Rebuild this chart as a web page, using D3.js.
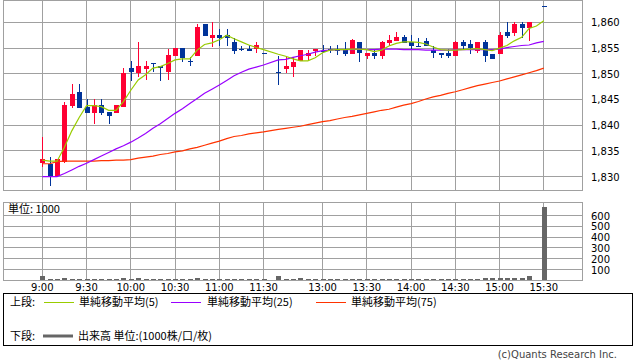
<!DOCTYPE html>
<html>
<head>
<meta charset="utf-8">
<script src="https://cdn.jsdelivr.net/npm/d3@7"></script>
<style>
    body { margin: 0; background: #fff; }
    svg text { font-family: "DejaVu Sans", "Noto Sans CJK JP", sans-serif; font-size: 10px; fill: #000; }
    svg text.jp { font-family: "Noto Sans CJK JP", "DejaVu Sans", sans-serif; font-size: 11px; }
</style>
</head>
<body>
<svg id="chart" width="638" height="362"></svg>
<script>
// 5-minute bars, slot 31 = lunch gap, slot 67 = 15:25 (no trades)
const tickIdx = [0, 6, 12, 18, 24, 30, 38, 44, 50, 56, 62, 68];
const tickLabels = ["9:00", "9:30", "10:00", "10:30", "11:00", "11:30", "13:00", "13:30", "14:00", "14:30", "15:00", "15:30"];
const priceTicks = [1830, 1835, 1840, 1845, 1850, 1855, 1860];
const volTicks = [100, 200, 300, 400, 500, 600];

const opens = [1832.6,1832.5,1830.2,1832.8,1843.7,1846.4,1843.5,1842.4,1843.9,1842.6,
    1842.4,1843.6,1851.1,1850.1,1851.0,1852.1,1851.5,1850.4,1853.5,1855.0,
    1852.5,1853.5,1859.7,1857.0,1857.6,1857.6,1856.1,1854.9,1854.9,1854.9,
    1854.0,null,1850.3,1850.9,1851.4,1852.5,1853.5,1854.4,1854.5,1854.9,
    1854.7,1854.7,1853.8,1856.2,1853.5,1854.1,1853.5,1855.9,1856.4,1857.1,
    1856.2,1855.4,1856.3,1854.6,1854.1,1854.0,1853.5,1856.2,1855.7,1854.5,
    1856.2,1853.8,1853.8,1858.1,1858.0,1859.7,1858.9,null,1863.2];
const highs = [1837.8,1833.9,1833.5,1844.5,1848.0,1848.1,1845.1,1845.1,1845.1,1842.6,
    1843.9,1851.1,1852.5,1856.2,1852.5,1852.1,1851.5,1854.9,1855.0,1855.0,
    1853.3,1859.7,1859.7,1860.1,1858.7,1858.7,1857.0,1855.4,1855.6,1856.1,
    1854.0,null,1853.4,1853.2,1853.2,1854.6,1854.6,1854.9,1855.6,1855.4,
    1855.6,1856.2,1856.8,1856.2,1854.1,1854.9,1856.4,1857.5,1858.1,1857.5,
    1857.5,1857.0,1857.0,1855.4,1854.1,1854.9,1856.4,1856.6,1856.6,1856.2,
    1856.6,1853.8,1858.2,1860.1,1860.1,1860.1,1860.1,null,1863.2];
const lows = [1831.9,1828.2,1829.9,1832.7,1843.4,1843.4,1842.4,1840.3,1842.0,1840.2,
    1842.4,1843.6,1848.5,1849.4,1848.8,1850.4,1848.5,1848.8,1853.5,1852.3,
    1851.5,1853.5,1857.3,1855.3,1855.4,1855.4,1853.8,1854.5,1854.5,1854.0,
    1854.0,null,1847.9,1850.2,1849.4,1852.5,1852.5,1853.4,1854.0,1854.1,
    1853.6,1853.4,1853.8,1852.3,1852.9,1852.9,1852.9,1855.4,1856.4,1855.9,
    1854.9,1855.4,1855.4,1853.0,1853.0,1853.0,1853.5,1854.8,1853.9,1854.0,
    1852.3,1852.9,1853.8,1857.0,1857.3,1857.0,1856.4,null,1863.2];
const closes = [1833.4,1829.9,1833.4,1843.9,1846.1,1843.4,1842.4,1843.9,1842.4,1841.8,
    1843.9,1850.1,1850.4,1851.5,1851.5,1852.1,1851.1,1853.6,1855.0,1853.1,
    1852.5,1859.1,1857.3,1857.6,1857.0,1857.0,1854.5,1854.9,1854.5,1855.5,
    1854.0,null,1850.3,1851.5,1852.2,1854.6,1854.1,1854.9,1854.2,1854.6,
    1854.7,1853.8,1856.6,1854.0,1854.1,1853.5,1856.2,1856.6,1857.1,1856.0,
    1855.4,1855.4,1855.4,1854.0,1853.6,1853.5,1856.2,1855.4,1855.0,1856.2,
    1853.5,1852.9,1857.5,1857.3,1859.7,1858.9,1860.1,null,1863.2];

const ma5 = [1833.2,1833.0,1833.0,1835.7,1838.9,1841.5,1843.8,1843.8,1843.6,1842.9,
    1842.9,1844.6,1846.8,1848.8,1849.8,1851.1,1851.4,1852.0,1852.7,1852.9,
    1852.9,1854.6,1855.7,1856.0,1856.6,1857.5,1856.8,1856.2,1855.6,1855.1,
    1854.7,null,1853.8,1853.4,1852.9,1852.5,1852.5,1853.1,1854.1,1854.6,
    1854.7,1854.7,1854.8,1854.8,1854.7,1854.3,1854.6,1855.4,1855.9,1856.2,
    1856.2,1856.1,1855.8,1855.2,1854.7,1854.6,1854.6,1854.7,1854.8,1854.9,
    1854.7,1854.5,1855.0,1855.5,1856.4,1857.1,1858.8,1859.3,1860.3];
const ma25 = [1830.0,1830.0,1830.0,1830.6,1831.3,1832.0,1832.6,1833.3,1834.0,1834.7,
    1835.4,1836.0,1836.7,1837.5,1838.4,1839.4,1840.3,1841.3,1842.3,1843.2,
    1844.2,1845.2,1846.2,1847.0,1847.8,1848.7,1849.6,1850.3,1850.9,1851.3,
    1851.7,null,1852.7,1852.8,1853.2,1853.5,1853.8,1854.2,1854.5,1854.6,
    1854.7,1854.7,1854.7,1854.8,1854.7,1854.7,1854.8,1854.8,1854.8,1854.7,
    1854.7,1854.7,1854.6,1854.6,1854.6,1854.6,1854.7,1854.7,1854.7,1854.7,
    1854.7,1854.7,1854.8,1855.1,1855.3,1855.5,1855.6,1856.0,1856.3];
const ma75 = [1832.5,1832.5,1832.9,1833.0,1833.0,1833.0,1833.0,1833.0,1833.1,1833.1,
    1833.2,1833.2,1833.3,1833.6,1833.8,1834.0,1834.3,1834.5,1834.8,1835.0,
    1835.4,1835.7,1836.1,1836.5,1836.9,1837.4,1837.8,1838.0,1838.3,1838.5,
    1838.7,null,1839.2,1839.4,1839.6,1839.8,1840.1,1840.4,1840.7,1840.9,
    1841.2,1841.5,1841.7,1842.0,1842.3,1842.6,1842.9,1843.1,1843.5,1843.9,
    1844.2,1844.6,1845.1,1845.5,1845.8,1846.2,1846.5,1846.9,1847.3,1847.7,
    1848.0,1848.3,1848.6,1849.0,1849.4,1849.8,1850.2,1850.6,1851.1];

const volume = [37,8,9,20,10,8,9,8,7,8,
    6,18,9,19,8,6,7,10,9,7,
    6,18,10,8,7,6,9,5,6,8,
    6,null,36,11,9,19,8,6,9,5,
    9,10,8,9,5,10,6,5,6,5,
    9,5,9,6,6,9,10,6,10,11,
    14,17,18,18,17,19,40,null,670];

const UP = "#ff0033", DOWN = "#003399", GRID = "#a0a0a0";
const maStyles = [
    { data: ma75, color: "#ff3300" },
    { data: ma25, color: "#9900ff" },
    { data: ma5, color: "#99cc00" }
];

const svg = d3.select("#chart");
const left = 3.5, right = 582.5;

const x = d3.scaleLinear().domain([0, 68]).range([42.3, 543.8]);
const y = d3.scaleLinear().domain([1827.3, 1864.25]).range([190.5, 0.5]);
const yv = d3.scaleLinear().domain([0, 720]).range([280.5, 202.5]);

const px = v => Math.round(v) + 0.5;

// panels + grid
function panel(top, bottom, hTicks, scale) {
    const g = svg.append("g").attr("shape-rendering", "crispEdges");
    g.selectAll("line.h").data(hTicks).join("line")
        .attr("x1", left).attr("x2", right)
        .attr("y1", d => px(scale(d) - 0.5)).attr("y2", d => px(scale(d) - 0.5))
        .attr("stroke", GRID);
    g.selectAll("line.v").data(tickIdx).join("line")
        .attr("class", "v")
        .attr("x1", d => px(x(d) - 0.5)).attr("x2", d => px(x(d) - 0.5))
        .attr("y1", top).attr("y2", bottom)
        .attr("stroke", GRID);
    g.append("rect")
        .attr("x", left).attr("y", top)
        .attr("width", right - left).attr("height", bottom - top)
        .attr("fill", "none").attr("stroke", GRID);
}
panel(0.5, 190.5, priceTicks, y);
panel(202.5, 280.5, volTicks, yv);

// axis labels
svg.append("g").selectAll("text").data(priceTicks).join("text")
    .attr("x", 591).attr("y", d => y(d) + 4)
    .text(d => d3.format(",")(d));

svg.append("g").selectAll("text").data(volTicks).join("text")
    .attr("x", 591).attr("y", d => yv(d) + 4)
    .text(d => d);

svg.append("g").selectAll("text").data(tickIdx).join("text")
    .attr("x", d => x(d)).attr("y", 291)
    .attr("text-anchor", "middle")
    .text((d, i) => tickLabels[i]);

svg.append("text").attr("class", "jp").attr("x", 8).attr("y", 213).text("単位: 1000");

// candles
const bars = d3.range(opens.length)
    .filter(i => opens[i] != null)
    .map(i => ({ i, o: opens[i], h: highs[i], l: lows[i], c: closes[i] }));

const cg = svg.append("g").attr("shape-rendering", "crispEdges");
cg.selectAll("line").data(bars).join("line")
    .attr("x1", d => Math.round(x(d.i)) + 0.5).attr("x2", d => Math.round(x(d.i)) + 0.5)
    .attr("y1", d => y(d.h)).attr("y2", d => y(d.l))
    .attr("stroke", d => d.c > d.o ? UP : DOWN);
cg.selectAll("rect").data(bars).join("rect")
    .attr("x", d => Math.round(x(d.i)) - 2)
    .attr("width", 5)
    .attr("y", d => Math.min(y(d.o), y(d.c)))
    .attr("height", d => Math.max(1, Math.abs(y(d.o) - y(d.c))))
    .attr("fill", d => d.c > d.o ? UP : DOWN);

// moving averages, joined across the empty slots
const line = d3.line().x(d => x(d.i)).y(d => y(d.v));
maStyles.forEach(s => {
    const pts = s.data.map((v, i) => ({ i, v })).filter(d => d.v != null);
    svg.append("path")
        .attr("d", line(pts))
        .attr("fill", "none")
        .attr("stroke", s.color)
        .attr("stroke-width", 1.2);
});

// volume
const vols = volume.map((v, i) => ({ i, v })).filter(d => d.v != null);
svg.append("g").attr("shape-rendering", "crispEdges")
    .selectAll("rect").data(vols).join("rect")
    .attr("x", d => Math.round(x(d.i)) - 2)
    .attr("width", 5)
    .attr("y", d => yv(d.v) - 0.5)
    .attr("height", d => yv(0) - yv(d.v))
    .attr("fill", "#666");

// legend
const lg = svg.append("g");
lg.append("rect").attr("x", 3.5).attr("y", 293.5).attr("width", 629).attr("height", 52)
    .attr("fill", "none").attr("stroke", "#000").attr("shape-rendering", "crispEdges");
lg.append("text").attr("class", "jp").attr("x", 10).attr("y", 306).text("上段:");
lg.append("text").attr("class", "jp").attr("x", 10).attr("y", 340).text("下段:");

const legendItems = [
    { x1: 44, x2: 74, tx: 79, color: "#99cc00", label: "単純移動平均(5)" },
    { x1: 171, x2: 201, tx: 207, color: "#9900ff", label: "単純移動平均(25)" },
    { x1: 316, x2: 346, tx: 351, color: "#ff3300", label: "単純移動平均(75)" }
];
legendItems.forEach(d => {
    lg.append("line").attr("x1", d.x1).attr("x2", d.x2).attr("y1", 302.5).attr("y2", 302.5)
        .attr("stroke", d.color).attr("shape-rendering", "crispEdges");
    lg.append("text").attr("class", "jp").attr("x", d.tx).attr("y", 306).text(d.label);
});
lg.append("line").attr("x1", 43).attr("x2", 73).attr("y1", 336).attr("y2", 336)
    .attr("stroke", "#666").attr("stroke-width", 3);
lg.append("text").attr("class", "jp").attr("x", 78).attr("y", 340).text("出来高 単位:(1000株/口/枚)");

svg.append("text").attr("x", 617).attr("y", 358).attr("text-anchor", "end")
    .style("fill", "#444").text("(c)Quants Research Inc.");
</script>
</body>
</html>
